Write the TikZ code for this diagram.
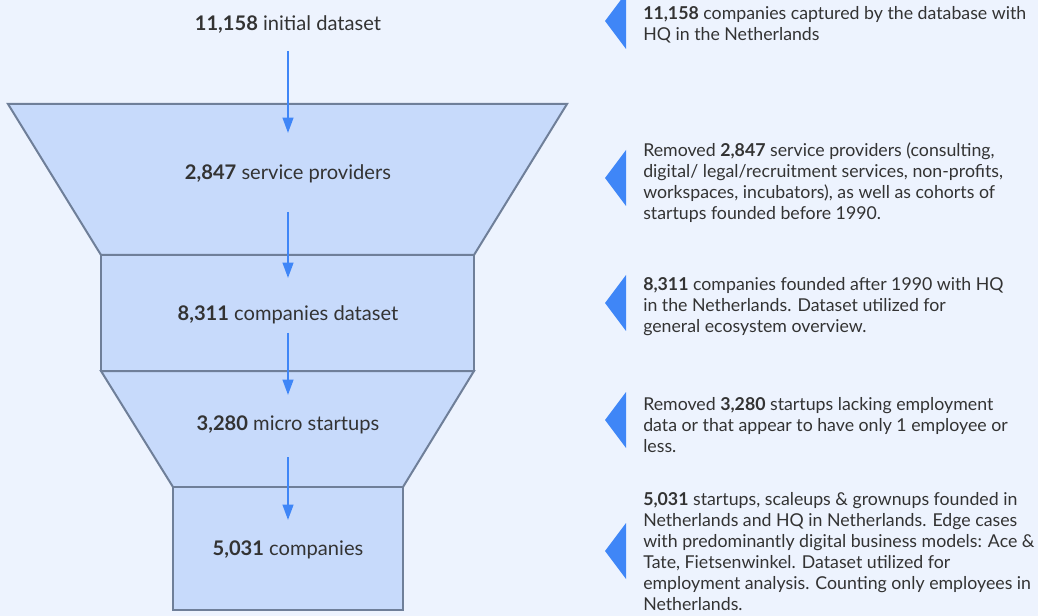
\documentclass[tikz,border=0pt]{standalone}
\usepackage{fontspec}
\setmainfont{Lato}
\usetikzlibrary{arrows.meta}
\definecolor{bgc}{HTML}{EDF3FE}
\definecolor{funfill}{HTML}{C7DAFB}
\definecolor{funline}{HTML}{6F7F99}
\definecolor{arrowc}{HTML}{3F86F7}
\definecolor{txtc}{HTML}{333333}
\tikzset{
  funnel/.style={fill=funfill, draw=funline, line width=1.5pt, line join=miter},
  flowarrow/.style={draw=arrowc, line width=1.6pt, -{Triangle[length=11.5pt,width=8pt]}},
  marker/.style={fill=arrowc},
  stagelabel/.style={text=txtc, font=\fontsize{15.1}{18}\selectfont, inner sep=0pt, anchor=center},
  note/.style={text=txtc, font=\fontsize{13.3}{15.75}\selectfont, align=left, anchor=west, inner sep=0pt}
}
\begin{document}
\begin{tikzpicture}[x=0.75pt,y=-0.75pt]
\useasboundingbox (0,0) rectangle (1038,616);
\fill[bgc] (0,0) rectangle (1038,616);
% funnel
\draw[funnel] (8,104) -- (567,104) -- (474,255) -- (101,255) -- cycle;
\draw[funnel] (101,255) rectangle (474,371);
\draw[funnel] (101,371) -- (474,371) -- (403,487) -- (173,487) -- cycle;
\draw[funnel] (173,487) rectangle (403,610);
% labels
\node[stagelabel] (s0) at (288,25) {\textbf{11,158} initial dataset};
\node[stagelabel] (s1) at (288,174) {\textbf{2,847} service providers};
\node[stagelabel] (s2) at (288,315) {\textbf{8,311} companies dataset};
\node[stagelabel] (s3) at (288,425) {\textbf{3,280} micro startups};
\node[stagelabel] (s4) at (288,550) {\textbf{5,031} companies};
% arrows
\coordinate (a0s) at (288,51); \coordinate (a0e) at (288,133);
\coordinate (a1s) at (288,212); \coordinate (a1e) at (288,278);
\coordinate (a2s) at (288,333); \coordinate (a2e) at (288,395);
\coordinate (a3s) at (288,457); \coordinate (a3e) at (288,520);
\draw[flowarrow] (a0s) -- (a0e);
\draw[flowarrow] (a1s) -- (a1e);
\draw[flowarrow] (a2s) -- (a2e);
\draw[flowarrow] (a3s) -- (a3e);
% markers
\fill[marker] (605,21) -- (626,-7) -- (626,49) -- cycle;
\fill[marker] (605,178) -- (626,150) -- (626,206) -- cycle;
\fill[marker] (605,303) -- (626,275) -- (626,331) -- cycle;
\fill[marker] (605,420) -- (626,392) -- (626,448) -- cycle;
\fill[marker] (605,551) -- (626,523) -- (626,579) -- cycle;
% notes
\node[note] (n0) at (643,25) {\textbf{11,158} companies captured by the database with\\HQ in the Netherlands};
\node[note] (n1) at (643,183) {Removed \textbf{2,847} service providers (consulting,\\digital/ legal/recruitment services, non-profits,\\workspaces, incubators), as well as cohorts of\\startups founded before 1990.};
\node[note] (n2) at (643,307) {\textbf{8,311} companies founded after 1990 with HQ\\in the Netherlands. Dataset utilized for\\general ecosystem overview.};
\node[note] (n3) at (643,425) {Removed \textbf{3,280} startups lacking employment\\data or that appear to have only 1 employee or\\less.};
\node[note] (n4) at (643,552) {\textbf{5,031} startups, scaleups \& grownups founded in\\Netherlands and HQ in Netherlands. Edge cases\\with predominantly digital business models: Ace \&\\Tate, Fietsenwinkel. Dataset utilized for\\employment analysis. Counting only employees in\\Netherlands.};
\end{tikzpicture}
\end{document}
